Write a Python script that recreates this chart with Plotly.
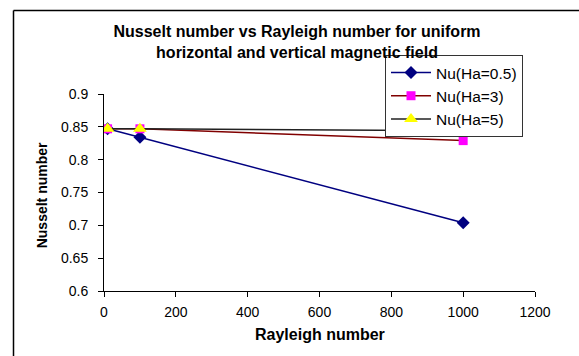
import plotly.graph_objects as go

rayleigh = [10, 100, 1000]
nu_ha05 = [0.847, 0.834, 0.704]
nu_ha3 = [0.847, 0.847, 0.829]
nu_ha5 = [0.847, 0.847, 0.844]
series_names = ["Nu(Ha=0.5)", "Nu(Ha=3)", "Nu(Ha=5)"]
x_ticks = [0, 200, 400, 600, 800, 1000, 1200]
y_ticks = [0.6, 0.65, 0.7, 0.75, 0.8, 0.85, 0.9]

W, H = 579, 356
L, R, T, B = 104, 44, 94, 65
pw, ph = W - L - R, H - T - B

def px(xp):
    return (xp - L) / pw

def py(yp):
    return (H - B - yp) / ph

fig = go.Figure()
fig.add_trace(go.Scatter(x=rayleigh, y=nu_ha05, name=series_names[0], mode="lines+markers",
                         line=dict(color="#000080", width=1.5),
                         marker=dict(symbol="diamond", size=10, color="#000080")))
fig.add_trace(go.Scatter(x=rayleigh, y=nu_ha3, name=series_names[1], mode="lines+markers",
                         line=dict(color="#800000", width=1.5),
                         marker=dict(symbol="square", size=9, color="#FF00FF")))
fig.add_trace(go.Scatter(x=rayleigh, y=nu_ha5, name=series_names[2], mode="lines+markers",
                         line=dict(color="#222222", width=1.5),
                         marker=dict(symbol="triangle-up", size=12, color="#FFFF00")))

font = "Arial, Liberation Sans, sans-serif"
fig.update_layout(
    width=W, height=H,
    margin=dict(l=L, r=R, t=T, b=B),
    paper_bgcolor="white", plot_bgcolor="white",
    font=dict(family=font, size=14, color="black"),
    title=dict(text="<b>Nusselt number vs Rayleigh number for uniform<br>horizontal and vertical magnetic field</b>",
               x=297 / W, xref="container", xanchor="center",
               y=1 - 37 / H, yref="container", yanchor="middle",
               font=dict(family=font, size=16, color="black")),
    showlegend=True,
    legend=dict(x=px(385), y=py(55), xanchor="left", yanchor="top",
                bgcolor="white", bordercolor="#333333", borderwidth=1,
                font=dict(family=font, size=15.5, color="black"),
                itemwidth=40, tracegroupgap=0),
    xaxis=dict(range=[0, 1200], tickvals=x_ticks, ticktext=[str(v) for v in x_ticks],
               showgrid=False, zeroline=False, showline=True, linecolor="black", linewidth=1,
               ticks="outside", ticklen=5, tickcolor="black", ticklabelstandoff=3,
               tickfont=dict(family=font, size=14, color="black")),
    yaxis=dict(range=[0.6, 0.9], tickvals=y_ticks, ticktext=[f"{v:g}" for v in y_ticks],
               showgrid=False, zeroline=False, showline=True, linecolor="black", linewidth=1,
               ticks="outside", ticklen=5, tickcolor="black", ticklabelstandoff=7,
               tickfont=dict(family=font, size=14, color="black")),
    shapes=[
        dict(type="line", xref="paper", yref="paper",
             x0=px(13.5), x1=px(579), y0=py(10.5), y1=py(10.5),
             line=dict(color="black", width=1.5), layer="below"),
        dict(type="line", xref="paper", yref="paper",
             x0=px(13.5), x1=px(13.5), y0=py(10.5), y1=py(356),
             line=dict(color="black", width=1.5), layer="below"),
    ],
    annotations=[
        dict(text="<b>Rayleigh number</b>", x=0.5, y=py(334), xref="paper", yref="paper",
             xanchor="center", yanchor="middle", showarrow=False,
             font=dict(family=font, size=16, color="black")),
        dict(text="<b>Nusselt number</b>", x=px(41.7), y=py(195.6), xref="paper", yref="paper",
             xanchor="center", yanchor="middle", showarrow=False, textangle=-90,
             font=dict(family=font, size=14, color="black")),
    ],
)

fig.write_html("out.html")
